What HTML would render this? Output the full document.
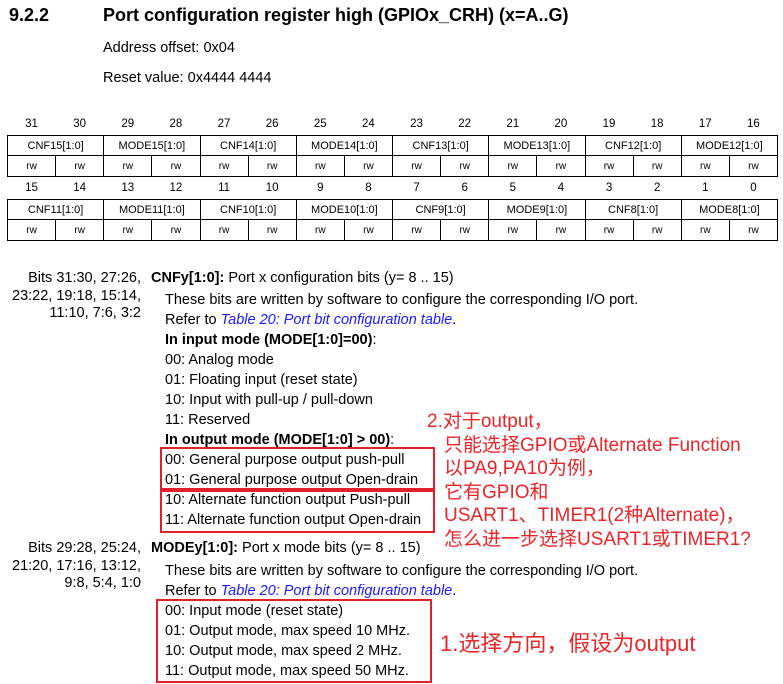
<!DOCTYPE html>
<html><head><meta charset="utf-8"><style>
body{margin:0;width:783px;height:684px;background:#fff;position:relative;overflow:hidden;font-family:"Liberation Sans",Arial,sans-serif;color:#000}
.a{position:absolute;white-space:nowrap}
table{position:absolute;left:7px;border-collapse:collapse;table-layout:fixed;width:771px;font-size:11px}
td{text-align:center;padding:0;}
tr.n td{height:22px;font-size:11.5px}
tr.f td{border:1px solid #000;height:19px}
tr.r td{border:1px solid #000;height:20px;font-size:10px}
.t{font-size:14.5px}
.b{font-weight:bold}
.l{color:#1a1aff;font-style:italic}
.red{color:#e8262a;font-family:"Liberation Sans","Noto Sans CJK SC",sans-serif;font-size:19px}
.box{position:absolute;border:2px solid #e0202a}
</style></head><body>
<div class="a b" style="left:9px;top:5px;font-size:18px">9.2.2</div>
<div class="a b" style="left:103px;top:5px;font-size:18px">Port configuration register high (GPIOx_CRH) (x=A..G)</div>
<div class="a t" style="left:103px;top:40px">Address offset: 0x04</div>
<div class="a t" style="left:103px;top:70px">Reset value: 0x4444 4444</div>

<table style="top:113px">
<tr class="n"><td>31</td><td>30</td><td>29</td><td>28</td><td>27</td><td>26</td><td>25</td><td>24</td><td>23</td><td>22</td><td>21</td><td>20</td><td>19</td><td>18</td><td>17</td><td>16</td></tr>
<tr class="f"><td colspan="2">CNF15[1:0]</td><td colspan="2">MODE15[1:0]</td><td colspan="2">CNF14[1:0]</td><td colspan="2">MODE14[1:0]</td><td colspan="2">CNF13[1:0]</td><td colspan="2">MODE13[1:0]</td><td colspan="2">CNF12[1:0]</td><td colspan="2">MODE12[1:0]</td></tr>
<tr class="r"><td>rw</td><td>rw</td><td>rw</td><td>rw</td><td>rw</td><td>rw</td><td>rw</td><td>rw</td><td>rw</td><td>rw</td><td>rw</td><td>rw</td><td>rw</td><td>rw</td><td>rw</td><td>rw</td></tr>
<tr class="n"><td>15</td><td>14</td><td>13</td><td>12</td><td>11</td><td>10</td><td>9</td><td>8</td><td>7</td><td>6</td><td>5</td><td>4</td><td>3</td><td>2</td><td>1</td><td>0</td></tr>
<tr class="f"><td colspan="2">CNF11[1:0]</td><td colspan="2">MODE11[1:0]</td><td colspan="2">CNF10[1:0]</td><td colspan="2">MODE10[1:0]</td><td colspan="2">CNF9[1:0]</td><td colspan="2">MODE9[1:0]</td><td colspan="2">CNF8[1:0]</td><td colspan="2">MODE8[1:0]</td></tr>
<tr class="r"><td>rw</td><td>rw</td><td>rw</td><td>rw</td><td>rw</td><td>rw</td><td>rw</td><td>rw</td><td>rw</td><td>rw</td><td>rw</td><td>rw</td><td>rw</td><td>rw</td><td>rw</td><td>rw</td></tr>
</table>

<div class="a t" style="right:642px;top:270px;text-align:right;line-height:17.5px">Bits 31:30, 27:26,<br>23:22, 19:18, 15:14,<br>11:10, 7:6, 3:2</div>
<div class="a t" style="left:151px;top:270px"><b>CNFy[1:0]:</b> Port x configuration bits (y= 8 .. 15)</div>
<div class="a t" style="left:165px;top:290px;line-height:20px">These bits are written by software to configure the corresponding I/O port.<br>Refer to <span class="l">Table 20: Port bit configuration table</span>.<br><b>In input mode (MODE[1:0]=00)</b>:<br>00: Analog mode<br>01: Floating input (reset state)<br>10: Input with pull-up / pull-down<br>11: Reserved<br><b>In output mode (MODE[1:0] &gt; 00)</b>:<br>00: General purpose output push-pull<br>01: General purpose output Open-drain<br>10: Alternate function output Push-pull<br>11: Alternate function output Open-drain</div>

<div class="a t" style="right:642px;top:540px;text-align:right;line-height:17.5px">Bits 29:28, 25:24,<br>21:20, 17:16, 13:12,<br>9:8, 5:4, 1:0</div>
<div class="a t" style="left:151px;top:540px"><b>MODEy[1:0]:</b> Port x mode bits (y= 8 .. 15)</div>
<div class="a t" style="left:165px;top:561px;line-height:20px">These bits are written by software to configure the corresponding I/O port.<br>Refer to <span class="l">Table 20: Port bit configuration table</span>.<br>00: Input mode (reset state)<br>01: Output mode, max speed 10 MHz.<br>10: Output mode, max speed 2 MHz.<br>11: Output mode, max speed 50 MHz.</div>

<div class="box" style="left:160px;top:447px;width:271px;height:39px"></div>
<div class="box" style="left:160px;top:490px;width:271px;height:39px"></div>
<div class="box" style="left:156px;top:599px;width:272px;height:80px"></div>

<div class="a red" style="left:427px;top:410px;line-height:23.5px">2.对于output，</div>
<div class="a red" style="left:444px;top:433.5px;line-height:23.5px">只能选择GPIO或Alternate Function<br>以PA9,PA10为例，<br>它有GPIO和<br>USART1、TIMER1(2种Alternate)，<br>怎么进一步选择USART1或TIMER1?</div>
<div class="a red" style="left:440px;top:626px;font-size:22px">1.选择方向，假设为output</div>
</body></html>
